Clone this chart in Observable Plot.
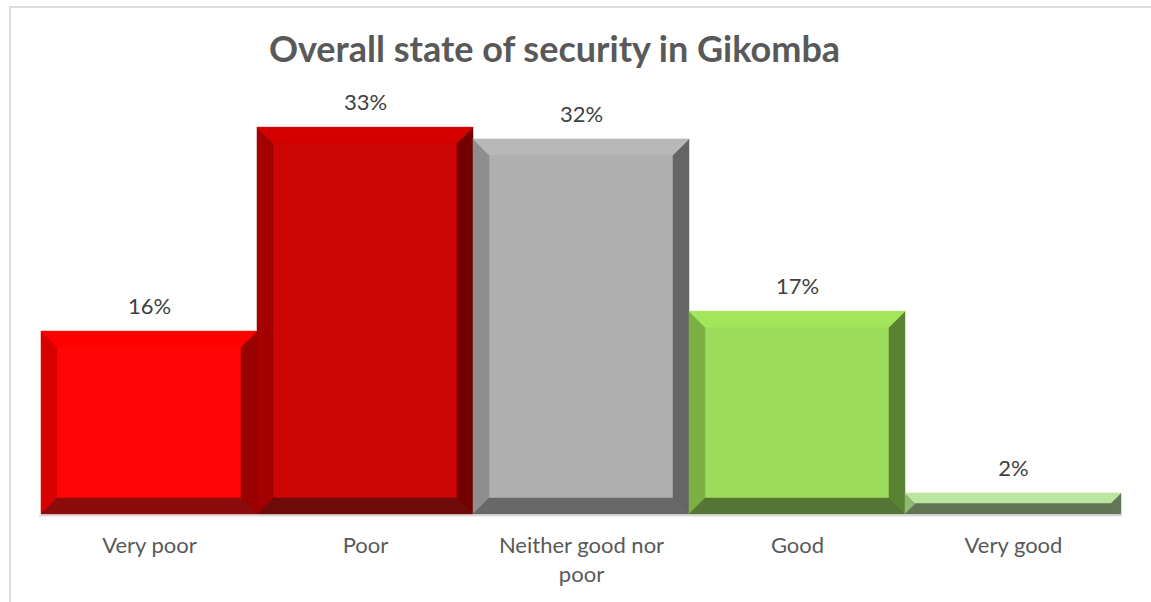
<!DOCTYPE html>
<html>
<head>
<meta charset="utf-8">
<script src="https://cdn.jsdelivr.net/npm/d3@7"></script>
<script src="https://cdn.jsdelivr.net/npm/@observablehq/plot@0.6"></script>
<style>
  html, body { margin: 0; padding: 0; background: #fff; }
  #wrap { position: relative; width: 1151px; height: 602px; overflow: hidden; }
  #frame { position: absolute; left: 9px; top: 6px; width: 1300px; height: 800px;
           border-left: 2px solid #dcdcdc; border-top: 2px solid #dcdcdc; }
  #title { position: absolute; left: 0; top: 31px; width: 1109px; text-align: center;
           font-family: Lato, "Open Sans", sans-serif; font-weight: bold; font-size: 36px;
           line-height: 35px; color: #595959; }
  #chart { position: absolute; left: 0; top: 0; }
</style>
</head>
<body>
<div id="wrap">
  <div id="frame"></div>
  <div id="chart"></div>
  <div id="title">Overall state of security in Gikomba</div>
</div>
<script>
// ---- data ----
const categories = ["Very poor", "Poor", "Neither good nor poor", "Good", "Very good"];
const values = [15.6, 33.0, 32.0, 17.3, 1.8];
const valueLabels = ["16%", "33%", "32%", "17%", "2%"];
const tickLabels = ["Very poor", "Poor", "Neither good nor\npoor", "Good", "Very good"];

// ---- styles ----
const faceColors   = ["#ff0505", "#cc0505", "#b0b0b0", "#9ddb5a", "#b8e29b"];
const topColors    = ["#ff0000", "#d40000", "#b8b8b8", "#a3e65b", "#bce69f"];
const leftColors   = ["#d90000", "#a30000", "#8e8e8e", "#7db042", "#8dba70"];
const rightColors  = ["#990000", "#730000", "#656565", "#5a8233", "#61775a"];
const bottomColors = ["#8c0c0c", "#6e0a0a", "#686868", "#557534", "#607553"];

const rows = categories.map((c, i) => ({category: c, value: values[i], i}));

function bevels(index, scales, chans, dims) {
  const g = d3.create("svg:g");
  const x = scales.x, y = scales.y;
  const bw = (x && typeof x.bandwidth === "function") ? x.bandwidth()
    : (dims.width - dims.marginLeft - dims.marginRight) / categories.length;
  rows.forEach(r => {
    const x0 = x(r.category), x1 = x0 + bw, y0 = y(0), y1 = y(r.value);
    const h = y0 - y1;
    const b = Math.min(16, h / 2, bw / 2);
    const polys = [
      [leftColors[r.i],   [[x0, y1], [x0 + b, y1 + b], [x0 + b, y0 - b], [x0, y0]]],
      [rightColors[r.i],  [[x1, y1], [x1, y0], [x1 - b, y0 - b], [x1 - b, y1 + b]]],
      [topColors[r.i],    [[x0, y1], [x1, y1], [x1 - b, y1 + b], [x0 + b, y1 + b]]],
      [bottomColors[r.i], [[x0, y0], [x0 + b, y0 - b], [x1 - b, y0 - b], [x1, y0]]]
    ];
    for (const [fill, pts] of polys) {
      g.append("polygon")
        .attr("points", pts.map(p => p.join(",")).join(" "))
        .attr("fill", fill)
        .attr("stroke", fill)
        .attr("stroke-width", 0.5);
    }
  });
  return g.node();
}

const chart = Plot.plot({
  width: 1151,
  height: 602,
  marginLeft: 39,
  marginRight: 29,
  marginTop: 92,
  marginBottom: 88,
  style: {fontFamily: "Lato, 'Open Sans', sans-serif", background: "transparent", overflow: "visible"},
  x: {domain: categories, padding: 0, axis: null},
  y: {domain: [0, 36], axis: null},
  color: {type: "identity"},
  marks: [
    Plot.ruleY([0], {stroke: "#d9d9d9", strokeWidth: 2, dy: 1}),
    Plot.barY(rows, {x: "category", y: "value", fill: d => faceColors[d.i], inset: 0}),
    bevels,
    Plot.text(rows, {
      x: "category", y: "value", text: d => valueLabels[d.i],
      lineAnchor: "bottom", dy: -17.7, fontSize: 22, fill: "#404040"
    }),
    Plot.text(rows, {
      x: "category", y: d => 0, text: d => tickLabels[d.i],
      lineAnchor: "top", dy: 18.5, fontSize: 22, lineHeight: 1.3, fill: "#595959"
    })
  ]
});
document.getElementById("chart").appendChild(chart);
</script>
</body>
</html>
